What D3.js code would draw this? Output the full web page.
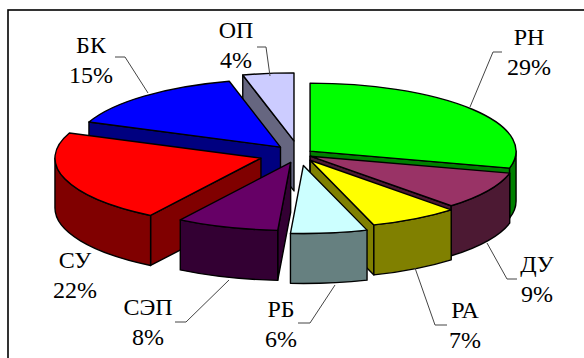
<!DOCTYPE html>
<html>
<head>
<meta charset="utf-8">
<script src="https://cdn.jsdelivr.net/npm/d3@7"></script>
</head>
<body style="margin:0">
<svg id="chart" width="584" height="358"></svg>
<script>
// Shares of the structure, clockwise from 12 o'clock
const categories = ["РН", "ДУ", "РА", "РБ", "СЭП", "СУ", "БК", "ОП"];
const shares     = [29, 9, 7, 6, 8, 22, 15, 4];
const topColors  = ["#00ff00", "#993366", "#ffff00", "#ccffff", "#660066", "#ff0000", "#0000ff", "#ccccff"];
const sideColors = ["#008000", "#4c1933", "#808000", "#668080", "#330033", "#800000", "#000080", "#666680"];

// Layout of the 3-D pie (top face ellipse, thickness, per-slice pull-out)
const geo = { cx: 299, cy: 154, rx: 206, ry: 68, depth: 50 };
const explode = [14, 13, 22, 35, 27, 40, 28, 40];

// Label anchors (centre x, baseline of the first line) and leader polylines
const labelAt = [[529, 45], [537, 272], [465, 318], [281, 317], [148, 315], [75, 268], [91, 53], [236, 38]];
const leaders = [
  [[470, 107], [493, 52], [502, 52]],
  [[487, 243], [507, 279], [517, 279]],
  [[415, 268], [435, 325], [447, 325]],
  [[335, 285], [310, 323], [298, 323]],
  [[229, 280], [186, 322], [175, 322]],
  null,
  [[148, 93], [125, 57], [115, 57]],
  [[270, 76], [266, 47], [257, 47]]
];

const data = categories.map((c, i) => ({ name: c, value: shares[i], top: topColors[i], side: sideColors[i], pull: explode[i], i }));

const svg = d3.select("#chart");

// chart area frame
svg.append("rect")
  .attr("x", 8).attr("y", 10).attr("width", 640).attr("height", 420)
  .attr("fill", "#fff").attr("stroke", "#000").attr("stroke-width", 1.6);

const arcs = d3.pie().sort(null).value(d => d.value).startAngle(0).endAngle(2 * Math.PI)(data);

// radial scale: fraction of radius -> horizontal / vertical screen extent
const rxScale = d3.scaleLinear().domain([0, 1]).range([0, geo.rx]);
const ryScale = d3.scaleLinear().domain([0, 1]).range([0, geo.ry]);

arcs.forEach(a => {
  const m = (a.startAngle + a.endAngle) / 2;
  a.mid = m;
  a.ox = a.data.pull * Math.sin(m);
  a.oy = -a.data.pull * (geo.ry / geo.rx) * Math.cos(m);
});

function P(a, th, r, z) {
  return [geo.cx + a.ox + rxScale(r) * Math.sin(th),
          geo.cy + a.oy - ryScale(r) * Math.cos(th) + z];
}
const f = p => p[0].toFixed(2) + "," + p[1].toFixed(2);

function topPath(a) {
  const c = P(a, 0, 0, 0), p0 = P(a, a.startAngle, 1, 0), p1 = P(a, a.endAngle, 1, 0);
  const large = (a.endAngle - a.startAngle) > Math.PI ? 1 : 0;
  return `M${f(c)}L${f(p0)}A${geo.rx},${geo.ry} 0 ${large} 1 ${f(p1)}Z`;
}
function wallPath(a) {
  const b0 = Math.max(a.startAngle, Math.PI / 2), b1 = Math.min(a.endAngle, 3 * Math.PI / 2);
  if (b1 <= b0) return null;
  const t0 = P(a, b0, 1, 0), t1 = P(a, b1, 1, 0), u1 = P(a, b1, 1, geo.depth), u0 = P(a, b0, 1, geo.depth);
  return `M${f(t0)}A${geo.rx},${geo.ry} 0 0 1 ${f(t1)}L${f(u1)}A${geo.rx},${geo.ry} 0 0 0 ${f(u0)}Z`;
}
function facePath(a, th) {
  const c = P(a, th, 0, 0), r = P(a, th, 1, 0), rb = P(a, th, 1, geo.depth), cb = P(a, th, 0, geo.depth);
  return `M${f(c)}L${f(r)}L${f(rb)}L${f(cb)}Z`;
}

// paint slices from the back to the front
const order = arcs.slice().sort((p, q) => (-Math.cos(p.mid)) - (-Math.cos(q.mid)));

const pie = svg.append("g")
  .attr("stroke", "#000").attr("stroke-width", 1.4).attr("stroke-linejoin", "round");

order.forEach(a => {
  const g = pie.append("g");
  if (Math.sin(a.startAngle) < -1e-6)
    g.append("path").attr("d", facePath(a, a.startAngle)).attr("fill", a.data.side);
  if (Math.sin(a.endAngle) > 1e-6)
    g.append("path").attr("d", facePath(a, a.endAngle)).attr("fill", a.data.side);
  const w = wallPath(a);
  if (w) g.append("path").attr("d", w).attr("fill", a.data.side);
  g.append("path").attr("d", topPath(a)).attr("fill", a.data.top);
});

// leader lines
const line = d3.line();
leaders.forEach(l => {
  if (!l) return;
  svg.append("path").attr("d", line(l)).attr("fill", "none")
    .attr("stroke", "#444").attr("stroke-width", 1);
});

// labels: name and share, one text element per line
function label(x, y, str) {
  svg.append("text")
    .attr("x", x).attr("y", y)
    .attr("font-size", 24)
    .attr("font-family", "Liberation Serif")
    .style("font-family", '"Liberation Serif"')
    .attr("text-anchor", "middle")
    .text(str);
}
arcs.forEach(a => {
  const [x, y] = labelAt[a.data.i];
  label(x, y, a.data.name);
  label(x, y + 30, a.data.value + "%");
});
</script>
</body>
</html>
